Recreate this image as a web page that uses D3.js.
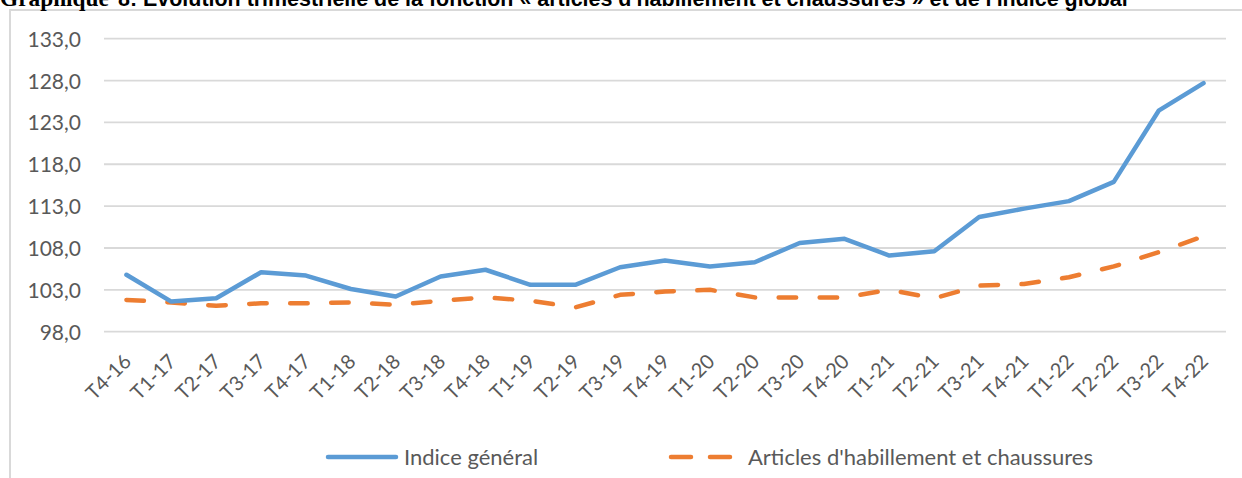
<!DOCTYPE html>
<html>
<head>
<meta charset="utf-8">
<script src="https://cdn.jsdelivr.net/npm/d3@7"></script>
<style>
  body { margin: 0; background: #fff; }
  svg { display: block; }
</style>
</head>
<body>
<div id="vis"></div>
<script>
// quarters shown on the x axis
const quarters = ["T4-16", "T1-17", "T2-17", "T3-17", "T4-17", "T1-18", "T2-18", "T3-18", "T4-18",
  "T1-19", "T2-19", "T3-19", "T4-19", "T1-20", "T2-20", "T3-20", "T4-20", "T1-21", "T2-21",
  "T3-21", "T4-21", "T1-22", "T2-22", "T3-22", "T4-22"];

// Indice général
const indiceGeneral = [104.8, 101.6, 102.0, 105.1, 104.7, 103.1, 102.2, 104.6, 105.4, 103.6, 103.6,
  105.7, 106.5, 105.8, 106.3, 108.6, 109.1, 107.1, 107.6, 111.7, 112.7, 113.6, 115.9, 124.4, 127.7];

// Articles d'habillement et chaussures
const habillement = [101.8, 101.5, 101.1, 101.4, 101.4, 101.5, 101.2, 101.7, 102.1, 101.7, 100.9,
  102.4, 102.8, 103.0, 102.1, 102.1, 102.1, 103.0, 102.0, 103.5, 103.7, 104.5, 105.8, 107.5, 109.4];

const yTicks = [98, 103, 108, 113, 118, 123, 128, 133];

const W = 1242, H = 478;
const plot = { left: 104, right: 1226, top: 38.7, bottom: 331.7 };

const svg = d3.select("#vis").append("svg")
  .attr("width", W)
  .attr("height", H);

svg.append("rect").attr("width", W).attr("height", H).attr("fill", "#fff");

// chart frame (only left and top edges are visible)
svg.append("path")
  .attr("d", `M10,${H + 5}V10H${W + 5}`)
  .attr("fill", "none")
  .attr("stroke", "#d9d9d9")
  .attr("stroke-width", 2);

// title, cut at the top like in the source document
const title = svg.append("g").attr("font-weight", "bold").attr("fill", "#000");
const t1 = title.append("text")
  .attr("x", 0).attr("y", 6)
  .attr("font-family", "'Liberation Serif', serif")
  .attr("font-size", 26)
  .text("Graphique");
const t2 = title.append("text")
  .attr("x", 118).attr("y", 6)
  .attr("font-family", "'Liberation Sans', Arial, sans-serif")
  .attr("font-size", 21)
  .text("8: Evolution trimestrielle de la fonction « articles d'habillement et chaussures » et de l'indice global");
// fit the two parts to the widths seen in the source
t1.attr("font-size", 26 * 109 / t1.node().getComputedTextLength());
t2.attr("font-size", 21 * 1010 / t2.node().getComputedTextLength());

const x = d3.scaleBand()
  .domain(quarters)
  .range([plot.left, plot.right]);

const y = d3.scaleLinear()
  .domain([98, 133])
  .range([plot.bottom, plot.top]);

const font = "Lato, 'Open Sans', sans-serif";

// y labels
const yAxis = svg.append("g")
  .attr("transform", `translate(81,0)`)
  .call(d3.axisLeft(y).tickValues(yTicks).tickSize(0).tickPadding(0)
    .tickFormat(d => d3.format(".1f")(d).replace(".", ",")));
yAxis.select(".domain").remove();
yAxis.selectAll("text")
  .attr("font-family", font)
  .attr("font-size", 21)
  .attr("fill", "#595959")
  .attr("dy", "0.36em");

// gridlines
svg.append("g")
  .selectAll("line")
  .data(yTicks)
  .join("line")
  .attr("x1", plot.left)
  .attr("x2", plot.right)
  .attr("y1", d => y(d))
  .attr("y2", d => y(d))
  .attr("stroke", "#d9d9d9")
  .attr("stroke-width", 1.8);

// x labels, rotated
const xAxis = svg.append("g")
  .attr("transform", `translate(0,${plot.bottom})`)
  .call(d3.axisBottom(x).tickSize(0).tickPadding(0));
xAxis.select(".domain").remove();
xAxis.selectAll("text")
  .attr("font-family", font)
  .attr("font-size", 20)
  .attr("fill", "#595959")
  .attr("text-anchor", "end")
  .attr("dy", 0)
  .attr("transform", "translate(6,31) rotate(-45)");

const line = d3.line()
  .x((d, i) => x(quarters[i]) + x.bandwidth() / 2)
  .y(d => y(d));

svg.append("path")
  .datum(habillement)
  .attr("d", line)
  .attr("fill", "none")
  .attr("stroke", "#ed7d31")
  .attr("stroke-width", 4.5)
  .attr("stroke-linecap", "round")
  .attr("stroke-linejoin", "round")
  .attr("stroke-dasharray", "17.5,23.5");

svg.append("path")
  .datum(indiceGeneral)
  .attr("d", line)
  .attr("fill", "none")
  .attr("stroke", "#5b9bd5")
  .attr("stroke-width", 4.5)
  .attr("stroke-linecap", "round")
  .attr("stroke-linejoin", "round");

// legend
const legend = svg.append("g").attr("font-family", font).attr("font-size", 22).attr("fill", "#595959");
const legendY = 457;

legend.append("line")
  .attr("x1", 328).attr("x2", 396)
  .attr("y1", legendY).attr("y2", legendY)
  .attr("stroke", "#5b9bd5").attr("stroke-width", 4.5).attr("stroke-linecap", "round");
legend.append("text")
  .attr("x", 404).attr("y", legendY).attr("dy", "0.36em")
  .text("Indice général");

legend.append("line")
  .attr("x1", 671).attr("x2", 734)
  .attr("y1", legendY).attr("y2", legendY)
  .attr("stroke", "#ed7d31").attr("stroke-width", 4.5).attr("stroke-linecap", "round")
  .attr("stroke-dasharray", "20,19");
legend.append("text")
  .attr("x", 748).attr("y", legendY).attr("dy", "0.36em")
  .text("Articles d'habillement et chaussures");
</script>
</body>
</html>
